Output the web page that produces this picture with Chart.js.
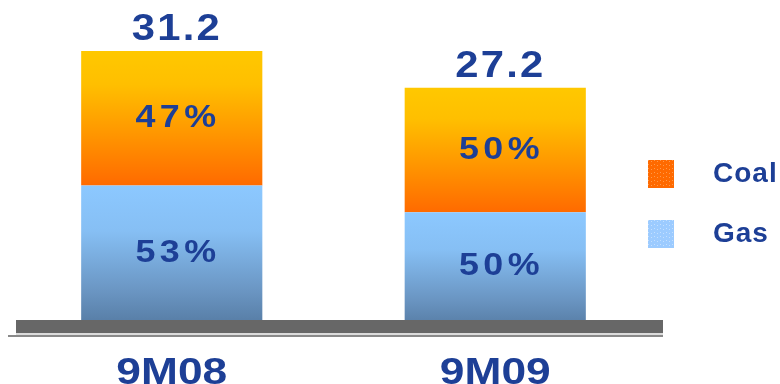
<!DOCTYPE html>
<html>
<head>
<meta charset="utf-8">
<style>
  html, body { margin: 0; padding: 0; background: #fff; }
  #wrap { width: 780px; height: 384px; }
</style>
</head>
<body>
<div id="wrap"><canvas id="myChart" width="780" height="384"></canvas></div>
<script src="https://cdn.jsdelivr.net/npm/chart.js"></script>
<script>
const periodos = ["9M08", "9M09"]
const totales = [31.2, 27.2]
const cuotaCarbon = [47, 50]
const cuotaGas = [53, 50]
const nombres = ["Coal", "Gas"]

// valores absolutos de cada tramo a partir del total y la cuota
const gas = totales.map((t, i) => t * cuotaGas[i] / 100)
const carbon = totales.map((t, i) => t * cuotaCarbon[i] / 100)

const azulTexto = "#1d3f96"
const fuente = "'Liberation Sans', Arial, sans-serif"

const graf = document.getElementById("myChart").getContext("2d")

function degradado(ctx, base, tope, paradas) {
  const chart = ctx.chart
  if (!chart.chartArea) return paradas[0][1]
  const y = chart.scales.y
  const i = ctx.dataIndex
  const arriba = y.getPixelForValue(tope[i])
  const abajo = y.getPixelForValue(base[i])
  const g = chart.ctx.createLinearGradient(0, arriba, 0, abajo)
  paradas.forEach(p => g.addColorStop(p[0], p[1]))
  return g
}

const paradasCarbon = [[0, "#ffc800"], [0.25, "#ffbf00"], [0.6, "#ff9800"], [1, "#ff6a00"]]
const paradasGas = [[0, "#8cc8ff"], [0.3, "#86bff4"], [0.7, "#6a95c2"], [1, "#4f7399"]]

// texto centrado, algo ensanchado como en la lamina original
function texto(ctx, t, x, y, tam, ancho, espacio) {
  ctx.save()
  ctx.font = "bold " + tam + "px " + fuente
  ctx.letterSpacing = espacio + "px"
  const w = ctx.measureText(t).width - espacio
  ctx.translate(x, y)
  ctx.scale(ancho, 1)
  ctx.textAlign = "left"
  ctx.fillText(t, -w / 2, 0)
  ctx.restore()
}

const etiquetas = {
  id: "etiquetas",
  afterDatasetsDraw(chart) {
    const ctx = chart.ctx
    const x = chart.scales.x
    const y = chart.scales.y
    const area = chart.chartArea
    ctx.save()

    // piso gris
    const pisoArriba = 320
    ctx.fillStyle = "#dcdcdc"
    ctx.fillRect(area.left + 6, 333, area.right - area.left, 2)
    ctx.fillStyle = "#8a8a8a"
    ctx.fillRect(area.left - 2, 335, area.right - area.left + 8, 2)
    ctx.fillStyle = "#676767"
    ctx.fillRect(area.left + 6, pisoArriba, area.right - area.left, 13)

    ctx.fillStyle = azulTexto
    periodos.forEach((p, i) => {
      const cx = x.getPixelForValue(i)
      const yGas = y.getPixelForValue(gas[i])
      const yTope = y.getPixelForValue(gas[i] + carbon[i])

      ctx.textBaseline = "middle"
      texto(ctx, cuotaCarbon[i] + "%", cx + 4, (yTope + yGas) / 2, 32, 1.12, 4)
      texto(ctx, cuotaGas[i] + "%", cx + 4, (yGas + pisoArriba) / 2, 32, 1.12, 4)

      ctx.textBaseline = "alphabetic"
      texto(ctx, totales[i].toFixed(1), cx + 4, yTope - 11, 37, 1.13, 2)
      texto(ctx, p, cx, 384, 36, 1.23, 0)
    })

    // leyenda
    const colores = ["#ff6a00", "#9ccbff"]
    const puntos = ["#ff9a4a", "#c4e0ff"]
    ctx.textAlign = "left"
    ctx.textBaseline = "middle"
    nombres.forEach((n, k) => {
      const yc = 174 + k * 60
      ctx.fillStyle = colores[k]
      ctx.fillRect(648, yc - 14, 26, 28)
      ctx.fillStyle = puntos[k]
      for (let a = 0; a < 26; a += 3) {
        for (let b = (a % 2); b < 28; b += 4) {
          ctx.fillRect(648 + a, yc - 14 + b, 1, 1)
        }
      }
      ctx.fillStyle = azulTexto
      ctx.font = "bold 28px " + fuente
      ctx.letterSpacing = "1px"
      ctx.fillText(n, 713, yc)
      ctx.letterSpacing = "0px"
    })
    ctx.restore()
  }
}

const myChart = new Chart(graf, {
  type: "bar",
  data: {
    labels: periodos,
    datasets: [
      {
        label: nombres[1],
        data: gas,
        backgroundColor: c => degradado(c, gas.map(() => 0), gas, paradasGas),
        borderWidth: 0
      },
      {
        label: nombres[0],
        data: carbon,
        backgroundColor: c => degradado(c, gas, gas.map((g, i) => g + carbon[i]), paradasCarbon),
        borderWidth: 0
      }
    ]
  },
  options: {
    responsive: false,
    animation: false,
    layout: { padding: { left: 10, right: 123, top: 7, bottom: 47 } },
    datasets: { bar: { barPercentage: 0.56, categoryPercentage: 1 } },
    scales: {
      x: { stacked: true, display: false },
      y: { stacked: true, display: false, min: 0, max: 36 }
    },
    plugins: {
      legend: { display: false },
      tooltip: { enabled: false }
    }
  },
  plugins: [etiquetas]
})
</script>
</body>
</html>
